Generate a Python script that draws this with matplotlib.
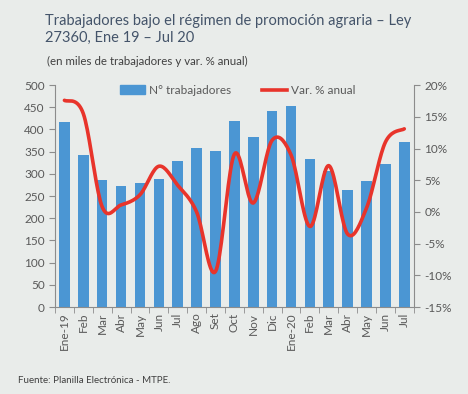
import numpy as np
import matplotlib
matplotlib.use("Agg")
import matplotlib.pyplot as plt
from matplotlib.lines import Line2D
from matplotlib.patches import Patch

# data
meses = ["Ene-19", "Feb", "Mar", "Abr", "May", "Jun", "Jul", "Ago", "Set", "Oct",
         "Nov", "Dic", "Ene-20", "Feb", "Mar", "Abr", "May", "Jun", "Jul"]
trabajadores = [417, 343, 286, 273, 280, 289, 328, 358, 351, 418,
                383, 441, 454, 334, 307, 264, 283, 322, 372]
var_anual = [17.6, 15.5, 0.8, 1.1, 2.7, 7.2, 4.2, 0.0, -9.4, 9.1,
             1.4, 11.3, 9.0, -2.3, 7.3, -3.5, 0.6, 11.0, 13.1]


def smooth_line(x, y, n=20):
    # excel-like smoothed line (cardinal bezier through the points)
    x = np.asarray(x, float)
    y = np.asarray(y, float)
    px = np.concatenate([[x[0]], x, [x[-1]]])
    py = np.concatenate([[y[0]], y, [y[-1]]])
    xs, ys = [], []
    t = np.linspace(0, 1, n)
    for i in range(1, len(px) - 2):
        p0 = np.array([px[i], py[i]])
        p3 = np.array([px[i + 1], py[i + 1]])
        c1 = p0 + (np.array([px[i + 1], py[i + 1]]) - np.array([px[i - 1], py[i - 1]])) / 6
        c2 = p3 - (np.array([px[i + 2], py[i + 2]]) - np.array([px[i], py[i]])) / 6
        b = (((1 - t) ** 3)[:, None] * p0 + (3 * (1 - t) ** 2 * t)[:, None] * c1
             + (3 * (1 - t) * t ** 2)[:, None] * c2 + (t ** 3)[:, None] * p3)
        xs.extend(b[:, 0])
        ys.extend(b[:, 1])
    return xs, ys


bg = "#e9ecea"
grey = "#595959"
plt.rcParams["font.family"] = ["Lato", "DejaVu Sans"]

fig = plt.figure(figsize=(4.68, 3.94), dpi=100, facecolor=bg)
ax = fig.add_axes([0.1175, 0.2208, 0.7665, 0.5632], facecolor=bg)
ax2 = ax.twinx()

x = np.arange(len(meses))
ax.bar(x, trabajadores, width=0.56, color="#4b96d3", zorder=2)
sx, sy = smooth_line(x, var_anual)
ax2.plot(sx, sy, color="#e8342b", lw=2.6, solid_capstyle="round", zorder=3)

ax.set_xlim(-0.5, len(meses) - 0.5)
ax.set_ylim(0, 500)
ax.set_yticks(range(0, 501, 50))
ax2.set_ylim(-15, 20)
ax2.set_yticks(range(-15, 21, 5))
ax2.set_yticklabels([f"{v}%" for v in range(-15, 21, 5)])

ax.set_xticks(x)
ax.set_xticklabels(meses, rotation=90)
ax.set_xticks(np.arange(-0.5, len(meses), 1), minor=True)
ax.tick_params(axis="x", which="major", length=0, pad=4)
ax.tick_params(axis="x", which="minor", length=4, color="#8c8c8c")

for a in (ax, ax2):
    for s in a.spines.values():
        s.set_visible(False)
    a.tick_params(labelsize=8.5, labelcolor=grey, color="#8c8c8c")
ax.spines["left"].set_visible(True)
ax.spines["bottom"].set_visible(True)
ax2.spines["right"].set_visible(True)
for s in (ax.spines["left"], ax.spines["bottom"], ax2.spines["right"]):
    s.set_color("#8c8c8c")
ax.tick_params(axis="y", length=4)
ax2.tick_params(axis="y", length=4)

handles = [Patch(color="#4b96d3"), Line2D([0], [0], color="#e8342b", lw=2.6)]
ax2.legend(handles, ["N° trabajadores", "Var. % anual"], ncol=2, frameon=False,
           loc="upper center", bbox_to_anchor=(0.51, 1.05), fontsize=8.5,
           labelcolor=grey, handlelength=2.1, columnspacing=2.6, handletextpad=0.35)

fig.text(0.096, 0.965, "Trabajadores bajo el régimen de promoción agraria – Ley\n27360, Ene 19 – Jul 20",
         fontsize=10.5, color="#44546a", va="top", linespacing=1.3)
fig.text(0.1, 0.845, "(en miles de trabajadores y var. % anual)", fontsize=8.3,
         color="#404040", va="center")
fig.text(0.038, 0.033, "Fuente: Planilla Electrónica - MTPE.", fontsize=7,
         color="#404040", va="center")

fig.savefig("out.png", dpi=100, facecolor=bg)
